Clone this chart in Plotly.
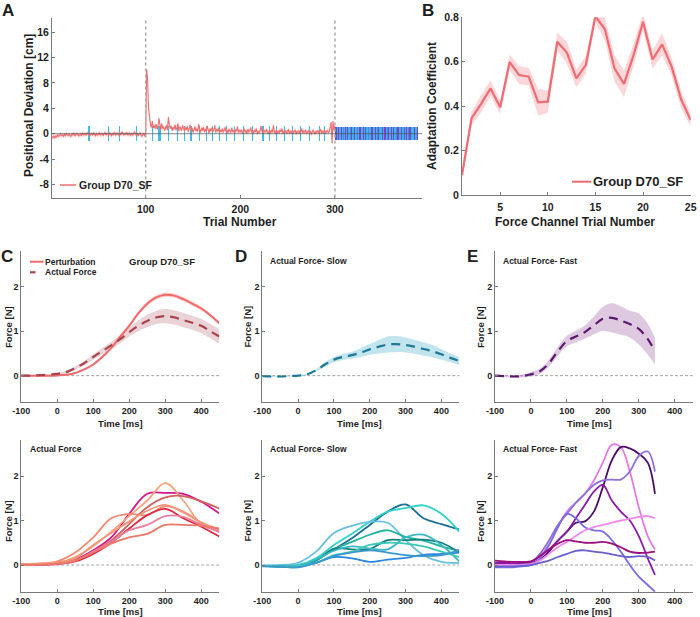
import plotly.graph_objects as go

# ---------------- DATA ----------------
# Panel A: positional deviation per trial (trials 1..300)
trial_dev = [
    -0.5, -0.6, -0.4, -0.7, -0.3, -0.5, -0.2, -0.4, -0.3, -0.1,
    -0.3, -0.2, -0.4, -0.1, -0.3, 0.0, -0.2, -0.3, -0.1, -0.2,
    -0.4, -0.1, -0.2, 0.1, -0.3, -0.2, 0.0, -0.1, -0.3, -0.2,
    -0.1, -0.3, 0.1, -0.2, -0.1, 0.0, -0.2, -0.1, 0.2, -0.1,
    -0.3, -0.1, 0.0, -0.2, 0.1, -0.1, -0.3, 0.0, -0.2, -0.1,
    0.1, -0.2, -0.1, 0.0, -0.3, -0.1, 0.2, -0.2, 0.0, -0.1,
    -0.2, 0.1, -0.1, -0.3, 0.0, -0.1, 0.2, -0.2, -0.1, 0.1,
    -0.1, -0.3, 0.0, -0.2, 0.3, -0.1, -0.2, 0.0, -0.1, 0.2,
    -0.2, -0.1, 0.1, -0.3, 0.0, -0.2, -0.1, 0.3, -0.1, -0.2,
    0.0, -0.3, -0.1, 0.1, -0.2, -0.4, -0.1, 0.0, -0.3, -0.1,
    10.2, 8.5, 4.0, 2.2, 1.5, 1.0, 2.0, 0.9, 1.3, 0.8,
    1.5, 0.7, 1.2, 2.4, 1.0, 0.6, 1.6, 0.8, 1.1, 0.5,
    0.9, 1.3, 0.6, 2.6, 1.4, 0.8, 1.2, 0.5, 1.0, 0.7,
    1.4, 0.6, 0.9, 1.6, 0.4, 1.1, 0.8, 0.5, 1.3, 0.7,
    0.4, 1.0, 0.6, 1.2, 0.3, 0.8, 1.4, 0.5, 0.9, 0.2,
    0.7, 1.1, 0.4, 0.8, 0.3, 1.5, 0.6, 0.2, 0.9, 0.5,
    1.0, 0.3, 0.7, 0.4, 1.2, 0.5, 0.1, 0.8, 0.4, 0.9,
    0.3, 0.6, 1.3, 0.2, 0.7, 0.4, 0.9, 0.1, 0.6, 0.3,
    0.8, 0.2, 0.5, 1.0, 0.3, 0.6, 0.1, 0.7, 0.4, 0.2,
    0.9, 0.3, 0.5, 0.0, 0.6, 0.4, 1.1, 0.2, 0.5, 0.3,
    0.6, 0.1, 0.4, 0.8, 0.2, 0.5, 0.0, 0.7, 0.3, 0.4,
    1.0, 0.2, 0.5, 0.1, 0.6, 0.3, 0.8, 0.0, 0.4, 0.2,
    0.5, 1.2, 0.3, 0.1, 0.6, 0.2, 0.4, 0.7, 0.0, 0.3,
    0.5, 0.1, 0.6, 0.2, 1.3, 0.3, 0.0, 0.5, 0.2, 0.4,
    0.1, 0.6, 0.3, 0.8, 0.0, 0.4, 0.2, 0.5, 0.1, 0.3,
    0.7, 0.0, 0.4, 0.2, 0.5, 0.1, 0.3, 0.6, -0.1, 0.4,
    0.2, 0.5, 0.0, 0.3, 0.8, 0.1, 0.4, 0.2, 0.6, 0.0,
    0.3, 0.5, 0.1, 0.4, -0.1, 0.3, 0.6, 0.2, 0.0, 0.4,
    0.2, 0.5, 0.1, 0.3, 0.7, 0.0, 0.4, 0.2, 0.6, 0.1,
    0.3, 0.5, 0.2, 0.4, 1.0, 1.8, -1.5, 2.0, 0.5, 1.2,
]
dev_sem = 0.35
channel_trials = [40, 61, 72, 90, 107, 114, 115, 116, 124, 134, 141, 148, 157, 164, 171,
                  178, 185, 194, 203, 213, 224, 231, 238, 247, 255, 264, 273, 284, 289]
# post-adaptation trials 301.. : S = slow (cyan), M = medium (blue), F = fast (purple)
post_codes = ("FFSFSSFSMSFSFSSMFFSSFSSMSFFSSFSFSSMFSSFFSSFSMFSSSFSFFSSMFSSFS"
              "FSSMFFSSFSSSFSFSMFFSSSFSSF")

# Panel B: adaptation coefficient
fc_trial = list(range(1, 26))
coef = [0.09, 0.345, 0.41, 0.48, 0.395, 0.598, 0.54, 0.533, 0.417, 0.42, 0.69, 0.641, 0.525,
        0.586, 0.805, 0.746, 0.57, 0.50, 0.63, 0.78, 0.61, 0.678, 0.578, 0.43, 0.337]
coef_sem = [0.02, 0.03, 0.04, 0.035, 0.03, 0.035, 0.04, 0.04, 0.06, 0.05, 0.04, 0.05, 0.04,
            0.04, 0.03, 0.05, 0.06, 0.06, 0.05, 0.04, 0.04, 0.05, 0.04, 0.04, 0.03]

# Panels C/D/E top: mean force profiles
t25 = [-100, -75, -50, -25, 0, 25, 50, 75, 100, 125, 150, 175, 200, 225, 250, 275, 300,
       325, 350, 375, 400, 425, 450]
pert = [0, 0, 0, 0, 0.005, 0.02, 0.06, 0.14, 0.25, 0.42, 0.62, 0.88, 1.12, 1.40, 1.62, 1.76,
        1.82, 1.80, 1.72, 1.62, 1.51, 1.36, 1.18]
pert_sem = [0.01, 0.01, 0.01, 0.01, 0.01, 0.01, 0.015, 0.02, 0.02, 0.025, 0.03, 0.035, 0.04,
            0.045, 0.05, 0.05, 0.05, 0.05, 0.05, 0.045, 0.045, 0.04, 0.04]
act = [0.0, 0.0, 0.01, 0.02, 0.04, 0.08, 0.17, 0.28, 0.42, 0.55, 0.68, 0.82, 0.98, 1.12, 1.23,
       1.31, 1.34, 1.31, 1.25, 1.19, 1.12, 1.0, 0.88]
act_sem = [0.01, 0.01, 0.01, 0.015, 0.02, 0.03, 0.04, 0.05, 0.06, 0.07, 0.08, 0.09, 0.1, 0.12,
           0.14, 0.15, 0.16, 0.16, 0.16, 0.16, 0.16, 0.16, 0.16]
slow = [-0.01, -0.02, -0.02, -0.01, 0.0, 0.03, 0.12, 0.25, 0.36, 0.42, 0.46, 0.52, 0.59, 0.65,
        0.70, 0.71, 0.69, 0.65, 0.60, 0.55, 0.48, 0.40, 0.33]
slow_sem = [0.01, 0.01, 0.01, 0.01, 0.01, 0.02, 0.03, 0.05, 0.06, 0.07, 0.08, 0.1, 0.12, 0.15,
            0.18, 0.18, 0.17, 0.16, 0.15, 0.14, 0.12, 0.1, 0.09]
t_fast = [-100, -75, -50, -25, 0, 25, 50, 75, 100, 125, 150, 175, 200, 225, 250, 275, 300,
          325, 345]
fast = [0.0, -0.01, -0.02, -0.01, 0.03, 0.1, 0.28, 0.55, 0.78, 0.88, 0.98, 1.13, 1.28, 1.30,
        1.24, 1.16, 1.05, 0.82, 0.55]
fast_sem = [0.02, 0.02, 0.02, 0.03, 0.05, 0.06, 0.08, 0.1, 0.12, 0.13, 0.15, 0.2, 0.27, 0.33,
            0.32, 0.3, 0.35, 0.35, 0.3]

# Bottom panels: individual subject actual force
t50 = [-100, -50, 0, 50, 100, 150, 200, 250, 300, 350, 400, 450]
subj_all = [
    [0.0, 0.01, 0.03, 0.12, 0.33, 0.62, 1.15, 1.60, 1.62, 1.60, 1.42, 1.16],
    [0.02, 0.03, 0.05, 0.18, 0.42, 0.75, 1.10, 1.45, 1.84, 1.45, 0.92, 0.78],
    [0.02, 0.03, 0.08, 0.28, 0.62, 1.05, 1.15, 1.12, 1.32, 1.20, 0.95, 0.74],
    [0.0, 0.01, 0.03, 0.10, 0.30, 0.55, 0.92, 1.30, 1.52, 1.55, 1.43, 1.27],
    [0.0, 0.01, 0.02, 0.08, 0.25, 0.50, 0.82, 1.12, 1.26, 1.05, 0.86, 0.64],
    [0.0, 0.01, 0.03, 0.10, 0.30, 0.52, 0.78, 0.90, 1.10, 1.08, 0.90, 0.75],
    [0.02, 0.03, 0.06, 0.15, 0.45, 0.72, 0.98, 1.22, 1.35, 1.18, 0.96, 0.80],
    [0.0, 0.01, 0.03, 0.10, 0.28, 0.48, 0.62, 0.70, 0.90, 0.90, 0.88, 0.82],
]
subj_all_colors = ['#d4168a', '#f7a47e', '#f58a72', '#d4625c', '#e2263f', '#ea7ea0',
                   '#f2987a', '#ee7868']
subj_slow = [
    [-0.02, -0.03, -0.03, 0.12, 0.35, 0.60, 0.90, 1.20, 1.36, 1.05, 0.92, 0.80],
    [-0.02, -0.02, 0.0, 0.15, 0.45, 0.70, 0.97, 1.20, 1.28, 1.34, 1.15, 0.75],
    [-0.01, 0.0, 0.05, 0.30, 0.72, 0.88, 0.97, 0.95, 0.56, 0.22, 0.07, 0.05],
    [-0.02, -0.03, -0.02, 0.10, 0.35, 0.52, 0.68, 0.78, 0.63, 0.55, 0.42, 0.32],
    [-0.02, -0.03, -0.03, 0.10, 0.37, 0.35, 0.36, 0.56, 0.56, 0.57, 0.50, 0.28],
    [-0.02, -0.03, -0.05, 0.05, 0.18, 0.15, 0.07, 0.12, 0.16, 0.23, 0.25, 0.28],
    [-0.02, -0.03, -0.03, 0.12, 0.32, 0.42, 0.37, 0.35, 0.62, 0.68, 0.45, 0.08],
    [-0.02, -0.03, -0.02, 0.05, 0.22, 0.30, 0.45, 0.50, 0.48, 0.42, 0.30, 0.18],
    [-0.03, -0.04, -0.05, 0.05, 0.20, 0.28, 0.33, 0.28, 0.22, 0.20, 0.22, 0.34],
]
subj_slow_colors = ['#1c6f96', '#30d2c8', '#68c0e4', '#24b49f', '#127f80', '#2a86e6',
                    '#3ab9c2', '#3cc8b6', '#3b98cb']
subj_fast = [
    [0.05, 0.05, 0.04, 0.05, 0.07, 0.2, 0.45, 0.85, 1.2, 1.4, 1.6, 1.9, 2.3, 2.7, 2.65, 2.1,
     1.3, 0.65, 0.35],
    [0.02, 0.02, 0.02, 0.03, 0.05, 0.12, 0.3, 0.55, 0.75, 0.95, 0.98, 1.2, 1.75, 2.35, 2.65,
     2.62, 2.5, 2.3, 1.6],
    [0.0, 0.0, 0.0, 0.02, 0.05, 0.25, 0.55, 0.9, 1.15, 1.4, 1.6, 1.8, 1.9, 1.92, 1.92, 2.1,
     2.45, 2.55, 2.1],
    [0.05, 0.05, 0.04, 0.05, 0.07, 0.2, 0.35, 0.55, 0.75, 1.05, 1.35, 1.65, 1.8, 1.45, 1.2,
     1.0, 0.65, 0.15, -0.22],
    [-0.05, -0.05, -0.05, -0.03, 0.0, 0.15, 0.45, 0.85, 1.15, 1.05, 0.85, 0.78, 0.75, 0.56,
     0.3, 0.0, -0.26, -0.45, -0.6],
    [0.0, 0.0, 0.0, 0.0, 0.02, 0.1, 0.25, 0.4, 0.52, 0.65, 0.78, 0.85, 0.9, 0.95, 1.0, 1.04,
     1.08, 1.1, 1.05],
    [0.1, 0.08, 0.07, 0.07, 0.08, 0.2, 0.35, 0.48, 0.56, 0.53, 0.5, 0.5, 0.52, 0.48, 0.4, 0.3,
     0.27, 0.28, 0.3],
    [-0.03, -0.03, -0.03, -0.02, 0.0, 0.05, 0.1, 0.18, 0.25, 0.32, 0.33, 0.3, 0.28, 0.24, 0.2,
     0.18, 0.2, 0.18, 0.1],
]
subj_fast_colors = ['#e47ae4', '#4b0c6b', '#8f6fdc', '#8b1aa8', '#7b6be6', '#f08ae8',
                    '#9c1079', '#6a5fcf']

time_ticks = [-100, 0, 100, 200, 300, 400]
force_ticks = [0, 1, 2]
devA_ticks = [-8, -4, 0, 4, 8, 12, 16]
trialA_ticks = [100, 200, 300]
coefB_ticks = [0, 0.2, 0.4, 0.6, 0.8]
trialB_ticks = [5, 10, 15, 20, 25]

# ---------------- LAYOUT HELPERS ----------------
W, H = 700, 617
FONT = "Liberation Sans"
AX = '#7a7a7a'
TXT = '#1e1e1e'
DASH = '9px,6px'


def xd(a, b):
    return [a / W, b / W]


def yd(a, b):
    return [1 - b / H, 1 - a / H]


def label(v):
    return f'{v:g}'  # plain hyphen minus, as in the reference


def axis(dom, rng, tickvals, size, anchor, standoff=0):
    return dict(domain=dom, range=rng, tickvals=tickvals, ticktext=[label(v) for v in tickvals],
                showline=True, linecolor=AX, linewidth=1, ticks='inside', ticklen=3,
                tickcolor=AX, showgrid=False, zeroline=False, anchor=anchor, fixedrange=True,
                automargin=False, ticklabelstandoff=standoff,
                tickfont=dict(family=FONT, size=size, color=TXT, weight='bold'))


fig = go.Figure()


def band(x, y, s, color, xa, ya, shape='spline'):
    lo = [a - b for a, b in zip(y, s)]
    hi = [a + b for a, b in zip(y, s)]
    fig.add_trace(go.Scatter(x=x, y=lo, mode='lines', line=dict(width=0, shape=shape),
                             xaxis=xa, yaxis=ya, showlegend=False, hoverinfo='skip'))
    fig.add_trace(go.Scatter(x=x, y=hi, mode='lines', line=dict(width=0, shape=shape),
                             fill='tonexty', fillcolor=color, xaxis=xa, yaxis=ya,
                             showlegend=False, hoverinfo='skip'))


# ---- Panel A ----
trials = list(range(1, len(trial_dev) + 1))
band(trials, trial_dev, [dev_sem] * len(trial_dev), 'rgba(242,110,110,0.30)', 'x', 'y',
     shape='linear')
fig.add_trace(go.Scatter(x=trials, y=trial_dev, mode='lines', xaxis='x', yaxis='y',
                         line=dict(color='#f26d6d', width=1.1), showlegend=False))
fig.add_trace(go.Bar(x=channel_trials, y=[2.4] * len(channel_trials),
                     base=[-1.2] * len(channel_trials), width=1.3,
                     marker=dict(color='#3cbde6', line=dict(width=0)),
                     xaxis='x', yaxis='y', showlegend=False))
code_colors = {'S': '#3ab4ea', 'M': '#4f86e2', 'F': '#7a45c8'}
post_trials = [300 + i + 1 for i in range(len(post_codes))]
fig.add_trace(go.Bar(x=post_trials, y=[2.1] * len(post_trials), base=[-1.0] * len(post_trials),
                     width=1.0, marker=dict(color=[code_colors[c] for c in post_codes],
                                            line=dict(width=0)),
                     xaxis='x', yaxis='y', showlegend=False))

# ---- Panel B ----
band(fc_trial, coef, coef_sem, 'rgba(242,110,118,0.28)', 'x2', 'y2', shape='linear')
fig.add_trace(go.Scatter(x=fc_trial, y=coef, mode='lines', xaxis='x2', yaxis='y2',
                         line=dict(color='#f06b72', width=2.2), showlegend=False))

# ---- Top row ----
band(t25, pert, pert_sem, 'rgba(242,106,106,0.30)', 'x3', 'y3')
band(t25, act, act_sem, 'rgba(170,80,90,0.25)', 'x3', 'y3')
fig.add_trace(go.Scatter(x=t25, y=pert, mode='lines', xaxis='x3', yaxis='y3',
                         line=dict(color='#f26a6a', width=2, shape='spline'), showlegend=False))
fig.add_trace(go.Scatter(x=t25, y=act, mode='lines', xaxis='x3', yaxis='y3',
                         line=dict(color='#a8444e', width=2.2, shape='spline', dash=DASH),
                         showlegend=False))
band(t25, slow, slow_sem, 'rgba(120,195,220,0.45)', 'x4', 'y4')
fig.add_trace(go.Scatter(x=t25, y=slow, mode='lines', xaxis='x4', yaxis='y4',
                         line=dict(color='#1f7896', width=2.2, shape='spline', dash=DASH),
                         showlegend=False))
band(t_fast, fast, fast_sem, 'rgba(160,100,170,0.35)', 'x5', 'y5')
fig.add_trace(go.Scatter(x=t_fast, y=fast, mode='lines', xaxis='x5', yaxis='y5',
                         line=dict(color='#5c1a6e', width=2.2, shape='spline', dash=DASH),
                         showlegend=False))

# ---- Bottom row ----
for ys, c in zip(subj_all, subj_all_colors):
    fig.add_trace(go.Scatter(x=t50, y=ys, mode='lines', xaxis='x6', yaxis='y6',
                             line=dict(color=c, width=1.8, shape='spline'), showlegend=False))
for ys, c in zip(subj_slow, subj_slow_colors):
    fig.add_trace(go.Scatter(x=t50, y=ys, mode='lines', xaxis='x7', yaxis='y7',
                             line=dict(color=c, width=1.8, shape='spline'), showlegend=False))
for ys, c in zip(subj_fast, subj_fast_colors):
    fig.add_trace(go.Scatter(x=t_fast, y=ys, mode='lines', xaxis='x8', yaxis='y8',
                             line=dict(color=c, width=1.8, shape='spline'), showlegend=False))

# ---------------- AXES ----------------
lay = dict(
    xaxis=axis(xd(52, 422), [1, 392], trialA_ticks, 10.5, 'y', standoff=2),
    yaxis=axis(yd(17.5, 197.5), [-10.05, 18.3], devA_ticks, 10.5, 'x'),
    xaxis2=axis(xd(462, 690.7), [1, 25], trialB_ticks, 10.5, 'y2', standoff=2),
    yaxis2=axis(yd(17.3, 195), [0, 0.8], coefB_ticks, 10.5, 'x2'),
)
cols = [(21.2, 219.3), (262.3, 459.3), (495, 692.7)]
rows = [(251.2, 402.3), (440.4, 591.7)]
k = 3
for r in rows:
    for c in cols:
        lay[f'xaxis{k}'] = axis(xd(*c), [-100, 450], time_ticks, 9, f'y{k}')
        lay[f'yaxis{k}'] = axis(yd(*r), [-0.6, 2.8], force_ticks, 9, f'x{k}')
        k += 1

shapes = []
# Panel A helper lines
for xv in [100, 300]:
    shapes.append(dict(type='line', xref='x', yref='y domain', x0=xv, x1=xv, y0=0, y1=1,
                       line=dict(color='#a8a8a8', width=1.5, dash='3px,3px')))
shapes.append(dict(type='line', xref='x domain', yref='y', x0=0, x1=1, y0=0, y1=0,
                   line=dict(color='#505050', width=0.7)))
for k in range(3, 9):
    shapes.append(dict(type='line', xref=f'x{k} domain', yref=f'y{k}', x0=0, x1=1, y0=0, y1=0,
                       layer='below', line=dict(color='#8a8a8a', width=0.8, dash='3px,2px')))


def ann(x, y, text, size, angle=0, xanchor='center'):
    return dict(x=x / W, y=1 - y / H, xref='paper', yref='paper', text=f'<b>{text}</b>',
                showarrow=False, textangle=angle, xanchor=xanchor, yanchor='middle',
                borderpad=0, font=dict(family=FONT, size=size, color=TXT))


anns = [
    ann(8, 11, 'A', 17), ann(427.5, 11, 'B', 17), ann(7, 256, 'C', 17),
    ann(241, 256, 'D', 17), ann(472, 256, 'E', 17),
    ann(29, 106, 'Positional Deviation [cm]', 12, -90),
    ann(240, 222.5, 'Trial Number', 12),
    ann(432, 106, 'Adaptation Coefficient', 12, -90),
    ann(575, 222.5, 'Force Channel Trial Number', 12),
    ann(162, 261, 'Group D70_SF', 9.5),
    ann(269, 261, 'Actual Force- Slow', 8.5, xanchor='left'),
    ann(502, 261, 'Actual Force- Fast', 8.5, xanchor='left'),
    ann(29, 449, 'Actual Force', 8.5, xanchor='left'),
    ann(269, 449, 'Actual Force- Slow', 8.5, xanchor='left'),
    ann(502, 449, 'Actual Force- Fast', 8.5, xanchor='left'),
]
for cx in [8, 246.5, 480]:
    anns.append(ann(cx, 327, 'Force [N]', 9.5, -90))
    anns.append(ann(cx, 521, 'Force [N]', 9.5, -90))
for cx in [120, 360, 589]:
    anns.append(ann(cx, 423, 'Time [ms]', 9.5))
    anns.append(ann(cx, 611, 'Time [ms]', 9.5))


# Legends (drawn manually)
def leg_line(x0, x1, y, color, width, dash='solid'):
    shapes.append(dict(type='line', xref='paper', yref='paper', x0=x0 / W, x1=x1 / W,
                       y0=1 - y / H, y1=1 - y / H, line=dict(color=color, width=width, dash=dash)))


leg_line(60, 76, 185, '#f26d6d', 1.5)
anns.append(ann(77.5, 185, 'Group D70_SF', 10.5, xanchor='left'))
leg_line(572, 591, 181.7, '#f06b72', 2)
anns.append(ann(591.5, 181.7, 'Group D70_SF', 13, xanchor='left'))
leg_line(30, 43.5, 261.7, '#f26a6a', 2)
anns.append(ann(44, 261.7, 'Perturbation', 8.5, xanchor='left'))
leg_line(30, 35.5, 272.3, '#a8444e', 2.2)
anns.append(ann(44, 272.3, 'Actual Force', 8.5, xanchor='left'))

fig.update_layout(**lay)
fig.update_layout(template='none', width=W, height=H, autosize=False,
                  margin=dict(l=0, r=0, t=0, b=0, pad=0),
                  paper_bgcolor='white', plot_bgcolor='white', barmode='overlay',
                  bargap=0, shapes=shapes, annotations=anns, showlegend=False,
                  hovermode=False, font=dict(family=FONT, color=TXT))
fig.write_html("out.html", config={'displayModeBar': False, 'staticPlot': True},
               post_script="document.body.style.margin='0px';"
                           "document.body.style.overflow='hidden';")
